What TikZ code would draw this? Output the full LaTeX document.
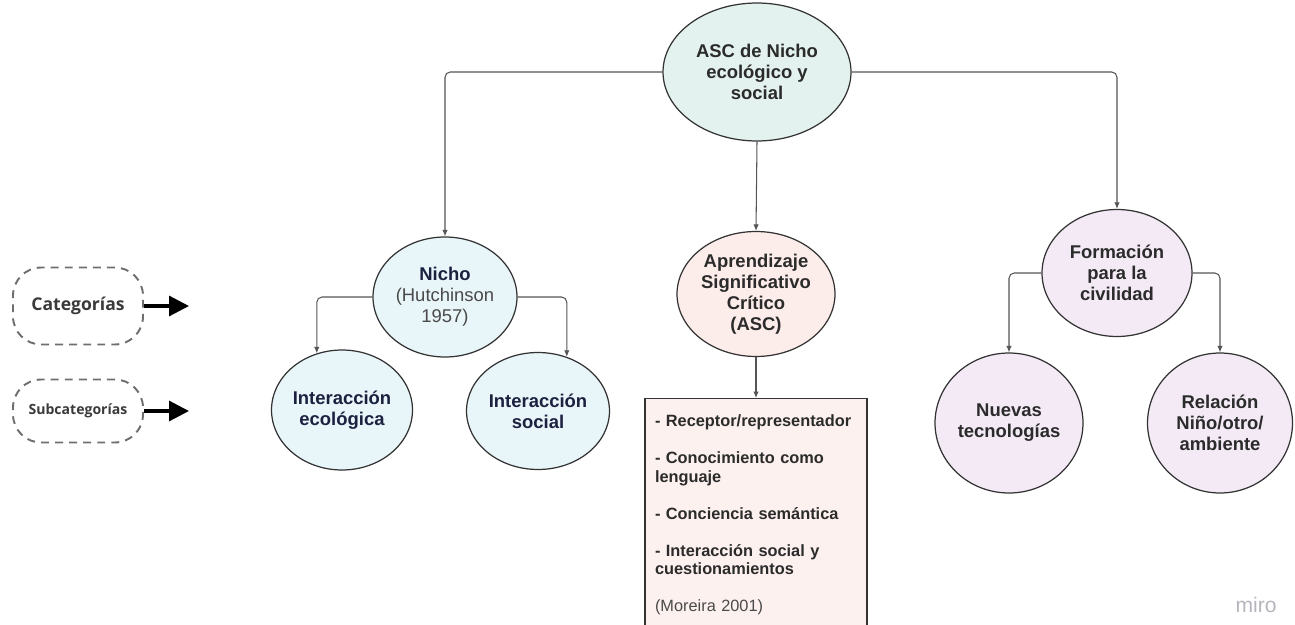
\documentclass[tikz,border=0pt]{standalone}
\usepackage{fontspec}
\setmainfont{Liberation Sans}
\newfontfamily\legfont{Open Sans}
\usetikzlibrary{arrows.meta,positioning,shapes.geometric}

\definecolor{mintfill}{HTML}{E3F2EE}
\definecolor{bluefill}{HTML}{E8F5F9}
\definecolor{pinkfill}{HTML}{FDEDEA}
\definecolor{boxfill}{HTML}{FDF1EF}
\definecolor{lilafill}{HTML}{F3EAF6}
\definecolor{edgegray}{HTML}{333333}
\definecolor{linkgray}{HTML}{555555}
\definecolor{txtdark}{HTML}{2B2B2B}
\definecolor{txtnavy}{HTML}{1C2140}
\definecolor{txtsoft}{HTML}{4A4A4A}
\definecolor{dashgray}{HTML}{6E6E6E}
\definecolor{leggray}{HTML}{3A3A3A}
\definecolor{mirogray}{HTML}{B5B5BE}

\begin{document}
\begin{tikzpicture}[
        x=0.02cm, y=-0.02cm,
        concept/.style={ellipse, draw=edgegray, line width=0.7pt, inner sep=0pt, align=center, font=\fontsize{10.5pt}{12pt}\selectfont\bfseries, text=txtdark},
        nichonode/.style={concept, fill=bluefill, text=txtnavy},
        civnode/.style={concept, fill=lilafill},
        listbox/.style={rectangle, draw=edgegray, line width=0.7pt, fill=boxfill, text width=4.04cm, inner xsep=0.2cm, inner ysep=0.33cm, align=left, font=\fontsize{9.3pt}{10.5pt}\selectfont\bfseries, text=txtdark},
        link/.style={-{Latex[length=1.3mm,width=1.1mm]}, draw=linkgray, line width=0.6pt, rounded corners=3pt},
        legend/.style={rectangle, rounded corners=16pt, draw=dashgray, dash pattern=on 4.5pt off 3.5pt, line width=1.1pt, minimum width=2.6cm, text=leggray},
        legarrow/.style={-{Triangle[length=4mm,width=4mm]}, line width=1.8pt, draw=black}
    ]
        \useasboundingbox (0,0) rectangle (1295,625);

        % leyenda
        \node[legend, minimum height=1.54cm, font=\legfont\fontsize{10pt}{12pt}\selectfont\bfseries] (cat) at (78,306) {Categorías};
        \node[legend, minimum height=1.26cm, font=\legfont\fontsize{8pt}{10pt}\selectfont\bfseries] (sub) at (78,411) {Subcategorías};
        \coordinate (catend) at (189,306);
        \coordinate (subend) at (189,411);
        \draw[legarrow] (cat.east) -- (catend);
        \draw[legarrow] (sub.east) -- (subend);

        % mapa
        \node[concept, fill=mintfill, minimum width=3.76cm, minimum height=2.76cm] (top) at (757,72) {ASC de Nicho\\ecológico y\\social};
        \node[nichonode, minimum width=2.88cm, minimum height=2.40cm] (nicho) at (445,297) {Nicho\\{\mdseries\color{txtsoft}(Hutchinson}\\{\mdseries\color{txtsoft}1957)}};
        \node[nichonode, minimum width=2.82cm, minimum height=2.40cm] (ieco) at (342,410) {Interacción\\ecológica};
        \node[nichonode, minimum width=2.86cm, minimum height=2.34cm] (isoc) at (538,411) {Interacción\\social};
        \node[concept, fill=pinkfill, minimum width=3.16cm, minimum height=2.50cm] (asc) at (756,294) {Aprendizaje\\Significativo\\Crítico\\(ASC)};
        \node[listbox, anchor=north] (lista) at (756,398) {- Receptor/representador\\[10.5pt]
            - Conocimiento como\\lenguaje\\[10.5pt]
            - Conciencia semántica\\[10.5pt]
            - Interacción social y\\cuestionamientos\\[10.5pt]
            {\mdseries\color{txtsoft}(Moreira 2001)}\\[14pt]\mbox{}};
        \node[civnode, minimum width=3.00cm, minimum height=2.54cm] (form) at (1117,273) {Formación\\para la\\civilidad};
        \node[civnode, minimum width=2.96cm, minimum height=2.80cm] (nuevas) at (1009,423) {Nuevas\\tecnologías};
        \node[civnode, minimum width=2.90cm, minimum height=2.80cm] (relac) at (1220,423) {Relación\\Niño/otro/\\ambiente};

        \node[font=\fontsize{12pt}{12pt}\selectfont, text=mirogray] (miro) at (1256,605) {miro};

        \draw[link] (top.west) -| (nicho.north);
        \draw[link] (top.south) -- (asc.north);
        \draw[link] (top.east) -| (form.north);
        \draw[link] (nicho.west) -| (ieco.114);
        \draw[link] (nicho.east) -| (isoc.62);
        \draw[link] (asc.south) -- (lista.north);
        \draw[link] (form.west) -| (nuevas.north);
        \draw[link] (form.east) -| (relac.north);
    \end{tikzpicture}
\end{document}
